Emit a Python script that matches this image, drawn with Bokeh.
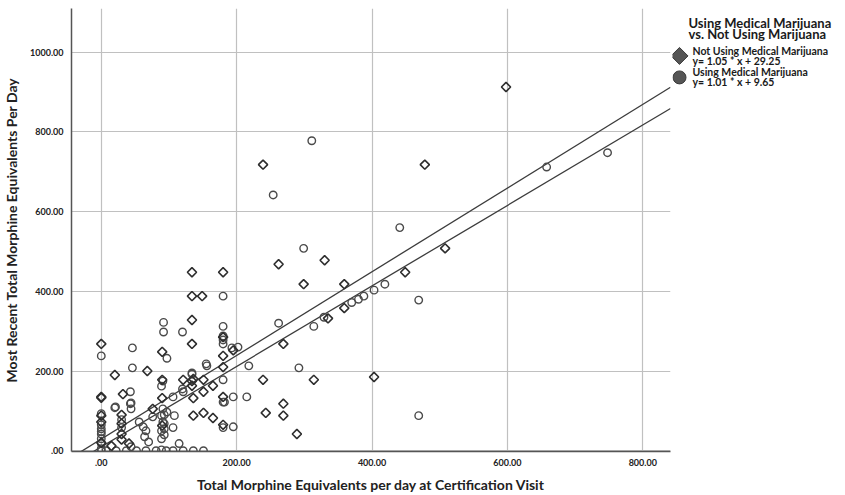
import numpy as np
from bokeh.plotting import figure
from bokeh.layouts import row
from bokeh.models import Range1d, FixedTicker
from bokeh.core.properties import value
from bokeh.embed import file_html
from bokeh.resources import INLINE

# ---- data ----
not_using_x = [239, 478, 598, 508, 449, 403, 262, 330, 299, 359, 359, 335, 269, 239, 314, 269, 243, 269, 289,
               180, 180, 180, 180, 180, 180, 134, 134, 149, 134, 134, 195, 0, 20, 68, 90, 90, 32, 0, 0, 90,
               90, 136, 136, 136, 151, 165, 151, 121, 134, 134, 165, 151, 30, 30, 30, 30, 0, 76, 15, 41, 0, 0]
not_using_y = [718, 718, 913, 508, 448, 185, 468, 478, 418, 418, 358, 332, 268, 178, 178, 118, 95, 88, 42,
               448, 285, 238, 210, 135, 65, 448, 388, 388, 328, 268, 252, 268, 190, 200, 248, 178, 142, 133, 88, 132,
               63, 180, 132, 88, 178, 82, 95, 178, 175, 163, 163, 148, 90, 68, 42, 28, 72, 105, 12, 18, 135, 20]

using_x = [311, 254, 658, 748, 469, 469, 441, 419, 403, 388, 380, 370, 329, 314, 262, 292, 218, 299,
           180, 180, 180, 180, 180, 180, 180, 180, 134, 120, 92, 92, 97, 202, 156, 0, 46, 46, 44, 44, 20,
           0, 0, 0, 0, 0, 0, 89, 89, 89, 89, 89, 115, 120, 195, 195, 106, 134, 121, 182, 108, 106,
           106, 121, 136, 151, 91, 91, 91, 97, 0, 0, 43, 43, 21, 30, 30, 56, 62, 66, 64, 70, 76,
           93, 93, 93, 93, 7, 22, 37, 52, 66, 81, 96, 44, 0, 155, 193, 215]
using_y = [778, 642, 712, 748, 378, 88, 560, 418, 403, 388, 380, 372, 335, 312, 320, 208, 213, 508,
           388, 312, 288, 278, 268, 178, 122, 58, 195, 298, 322, 298, 232, 260, 213, 238, 258, 208, 120, 105, 108,
           65, 55, 42, 30, 18, 5, 162, 88, 50, 30, 2, 18, 155, 135, 60, 135, 192, 148, 122, 88, 58,
           0, 0, 0, 0, 175, 105, 72, 97, 93, 48, 148, 118, 110, 78, 58, 72, 60, 50, 35, 22, 85,
           68, 55, 40, 90, 0, 0, 0, 0, 0, 0, 0, 10, 0, 218, 258, 135]

fit_not_using = (1.05, 29.25)
fit_using = (1.01, 9.65)

x_ticks = [0, 200, 400, 600, 800]
x_tick_labels = [".00", "200.00", "400.00", "600.00", "800.00"]
y_ticks = [0, 200, 400, 600, 800, 1000]
y_tick_labels = [".00", "200.00", "400.00", "600.00", "800.00", "1000.00"]

legend_title = ["Using Medical Marijuana", "vs. Not Using Marijuana"]
series_names = ["Not Using Medical Marijuana", "Using Medical Marijuana"]
equations = ["y= 1.05 * x + 29.25", "y= 1.01 * x + 9.65"]

FONT = "Lato"

x_lo, x_hi = -44, 841
y_lo, y_hi = -2, 1110

p = figure(width=672, height=495, output_backend="svg", toolbar_location=None,
           x_range=Range1d(x_lo, x_hi), y_range=Range1d(y_lo, y_hi),
           min_border_left=70, min_border_right=2, min_border_top=8, min_border_bottom=43)
p.outline_line_color = None
p.background_fill_color = "white"
p.border_fill_color = "white"

p.xaxis.ticker = FixedTicker(ticks=x_ticks)
p.yaxis.ticker = FixedTicker(ticks=y_ticks)
p.xaxis.major_label_overrides = {t: l for t, l in zip(x_ticks, x_tick_labels)}
p.yaxis.major_label_overrides = {t: l for t, l in zip(y_ticks, y_tick_labels)}

for ax in (p.xaxis[0], p.yaxis[0]):
    ax.axis_line_color = "#555555"
    ax.axis_line_width = 1.5
    ax.major_tick_out = 0
    ax.major_tick_in = 0
    ax.minor_tick_out = 0
    ax.minor_tick_in = 0
    ax.major_label_text_font = FONT
    ax.major_label_text_font_style = "bold"
    ax.major_label_text_font_size = "9px"
    ax.major_label_text_color = "#222222"
    ax.axis_label_text_font = FONT
    ax.axis_label_text_font_style = "bold"
    ax.axis_label_text_font_size = "14px"
    ax.axis_label_text_color = "#222222"

p.xaxis.axis_label = "Total Morphine Equivalents per day at Certification Visit"
p.yaxis.axis_label = "Most Recent Total Morphine Equivalents Per Day"
p.xaxis.major_label_standoff = 7
p.yaxis.major_label_standoff = 8
p.xaxis.axis_label_standoff = 7
p.yaxis.axis_label_standoff = 7

p.xgrid.grid_line_color = "#c0c0c0"
p.ygrid.grid_line_color = "#c0c0c0"
p.xgrid.grid_line_width = 1.2
p.ygrid.grid_line_width = 1.2

# regression lines
lx = np.array([x_lo, x_hi], dtype=float)
p.line(lx, fit_not_using[0] * lx + fit_not_using[1], line_color="#3c3c3c", line_width=1.3)
p.line(lx, fit_using[0] * lx + fit_using[1], line_color="#3c3c3c", line_width=1.3)

# points
p.scatter(using_x, using_y, marker="circle", size=7.5, fill_color=None,
          line_color="#4a4a4a", line_width=1.4)
p.scatter(not_using_x, not_using_y, marker="square", size=6.5, angle=np.pi / 4,
          fill_color=None, line_color="#2e2e2e", line_width=1.6)

# ---- legend panel ----
lg = figure(width=173, height=495, output_backend="svg", toolbar_location=None,
            x_range=Range1d(0, 173), y_range=Range1d(495, 0),
            min_border_left=0, min_border_right=0, min_border_top=0, min_border_bottom=0)
lg.axis.visible = False
lg.grid.visible = False
lg.outline_line_color = None

lg.text(x=[16, 16], y=[16, 29], text=legend_title, text_font=value(FONT), text_font_style="bold",
        text_font_size="13px", text_baseline="middle", text_color="#1a1a1a")
lg.scatter(x=[7], y=[53], marker="square", size=12, angle=np.pi / 4, fill_color="#555555",
           line_color="#3a3a3a")
lg.scatter(x=[7], y=[77], marker="circle", size=13, fill_color="#555555", line_color="#3a3a3a")
lg.text(x=[20, 20, 20, 20], y=[47, 59, 71, 82],
        text=[series_names[0], equations[0], series_names[1], equations[1]],
        text_font=value(FONT), text_font_style="bold", text_font_size="10.5px",
        text_baseline="middle", text_color="#1a1a1a")

layout = row(p, lg, spacing=0)
open("out.html", "w").write(file_html(layout, INLINE))
